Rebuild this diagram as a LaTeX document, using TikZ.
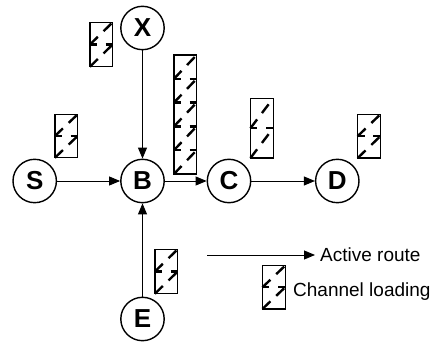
\documentclass[tikz,border=0pt]{standalone}
\usepackage{fontspec}
\setmainfont{Liberation Sans}
\usetikzlibrary{arrows.meta,calc}
\tikzset{
  station/.style={circle,draw,line width=1.4pt,minimum size=43.4pt,inner sep=0pt,
    font=\bfseries\fontsize{26}{26}\selectfont},
  route/.style={line width=0.9pt,-{Triangle[length=11pt,width=9pt]}},
  loadbox/.style={draw,line width=1.3pt,minimum width=22.7pt,inner sep=0pt,outer sep=0pt},
  hatch/.style={line width=2.4pt,dash pattern=on 11pt off 8pt},
  sepline/.style={line width=2.4pt,dash pattern=on 7pt off 8.7pt},
  legendtext/.style={anchor=west,inner sep=0pt,font=\fontsize{19}{19}\selectfont}
}
\newcommand\loadcells[2]{%
  \foreach \k [evaluate=\k as \ca using (\k-1)/#2, evaluate=\k as \cb using \k/#2] in {1,...,#2}{
    \draw[hatch] ($(#1.south west)!\ca!(#1.north west)$) -- ($(#1.south east)!\cb!(#1.north east)$);
  }
  \pgfmathtruncatemacro\nsep{#2-1}
  \foreach \k [evaluate=\k as \cb using \k/#2] in {1,...,\nsep}{
    \draw[sepline] ($(#1.south west)!\cb!(#1.north west)$) -- ($(#1.south east)!\cb!(#1.north east)$);
  }
}
\begin{document}
\begin{tikzpicture}[x=1pt,y=1pt]
\useasboundingbox (0,0) rectangle (432,343);
% stations
\node[station] (X) at (142.5,315) {X};
\node[station] (S) at (34.7,162) {S};
\node[station] (B) at (142.5,162) {B};
\node[station] (C) at (229,162) {C};
\node[station] (D) at (337.3,162) {D};
\node[station] (E) at (142.5,24) {E};
% routes
\draw[route] (X) -- (B);
\draw[route] (S) -- (B);
\draw[route] (B) -- (C);
\draw[route] (C) -- (D);
\draw[route] (E) -- (B);
% channel loading boxes
\node[loadbox,minimum height=44.4pt] (lX) at (101.3,298.5) {};
\loadcells{lX}{2}
\node[loadbox,minimum height=43.4pt] (lS) at (66.3,207) {};
\loadcells{lS}{2}
\node[loadbox,minimum height=119pt] (lB) at (185.3,228.5) {};
\loadcells{lB}{5}
\node[loadbox,minimum height=59.7pt] (lC) at (261.8,214.8) {};
\loadcells{lC}{2}
\node[loadbox,minimum height=43.7pt] (lD) at (369,206.8) {};
\loadcells{lD}{2}
\node[loadbox,minimum height=44.4pt] (lE) at (166.3,71.5) {};
\loadcells{lE}{2}
% legend
\coordinate (la) at (207,88);
\coordinate (lb) at (315,88);
\draw[route] (la) -- (lb);
\node[legendtext] (lt1) at (320,88) {Active route};
\node[loadbox,minimum height=43.3pt] (lL) at (273.8,55.7) {};
\loadcells{lL}{2}
\node[legendtext] (lt2) at (293,51.3) {Channel loading};
\end{tikzpicture}
\end{document}
